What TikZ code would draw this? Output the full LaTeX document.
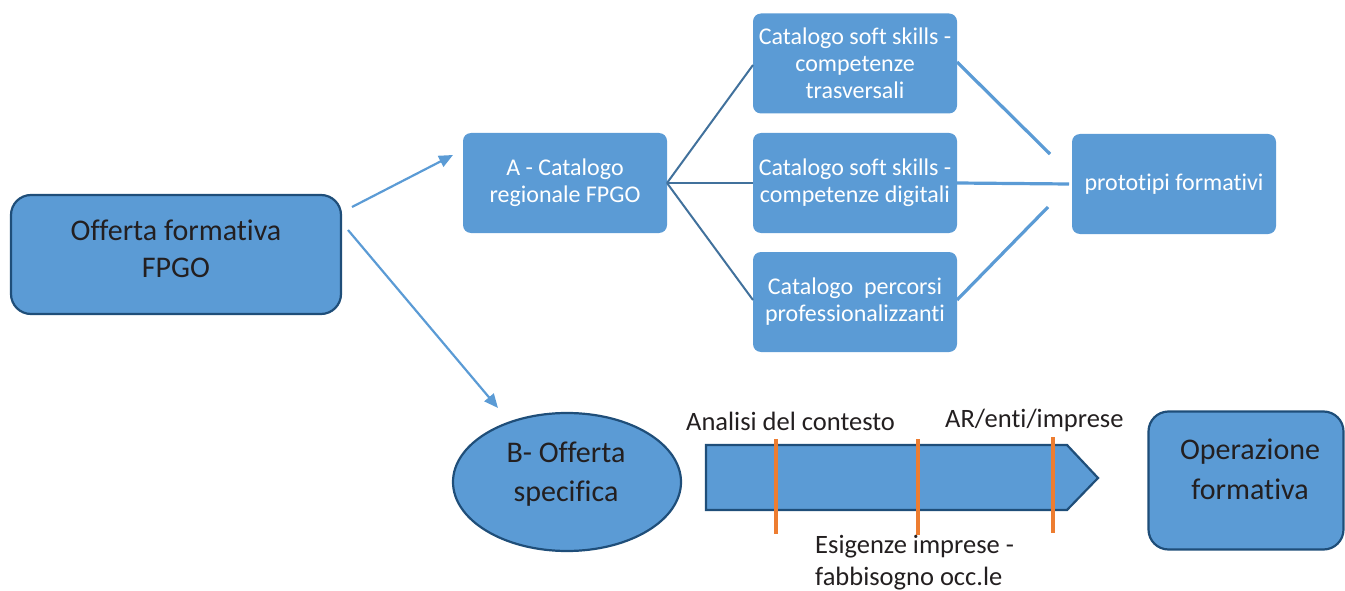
\documentclass[tikz,border=0pt]{standalone}
\usepackage{fontspec}
\setmainfont{Carlito}[Ligatures=NoCommon]
\usetikzlibrary{arrows.meta,shapes.geometric}
\definecolor{fillb}{HTML}{5B9BD5}
\definecolor{darkb}{HTML}{1F4E79}
\definecolor{midb}{HTML}{41719C}
\definecolor{orng}{HTML}{ED7D31}
\definecolor{txt}{HTML}{231F20}
\tikzset{
  bigbox/.style={draw=darkb, line width=2.2pt, fill=fillb, rounded corners=20pt},
  bigtext/.style={text=txt, align=center, inner sep=0pt},
  catbox/.style={fill=fillb, rounded corners=8pt, text=white, align=center,
    minimum width=204pt, minimum height=100pt, inner sep=0pt, font=\fontsize{24}{27}\selectfont},
  lnk/.style={draw=midb, line width=2pt},
  lnk2/.style={draw=fillb, line width=3.2pt},
  arr/.style={draw=fillb, line width=2.2pt, -{Triangle[length=14pt,width=12pt]}},
  orangemark/.style={draw=orng, line width=3.2pt},
  lbl/.style={text=txt, font=\fontsize{26.5}{32}\selectfont, inner sep=0pt}
}
\begin{document}
\begin{tikzpicture}[x=1pt,y=-1pt]
\useasboundingbox (0,0) rectangle (1345,591);
% main box
\node[bigbox, minimum width=330pt, minimum height=119pt] (off) at (176,254.5) {};
\node[bigtext, font=\fontsize{30}{37}\selectfont] (offt) at (176,249) {Offerta formativa\\FPGO};
% catalog boxes
\node[catbox] (A) at (565,183) {A - Catalogo\\regionale FPGO};
\node[catbox] (c1) at (855,63.5) {Catalogo soft skills -\\competenze\\trasversali};
\node[catbox] (c2) at (855,183) {Catalogo soft skills -\\competenze digitali};
\node[catbox] (c3) at (855,302) {Catalogo\ \ percorsi\\professionalizzanti};
\node[catbox] (p) at (1174,184) {prototipi formativi};
% links A -> catalogs
\coordinate (aR) at (667,183);
\draw[lnk] (aR) -- (753,65);
\draw[lnk] (aR) -- (c2.west);
\draw[lnk] (aR) -- (753,300);
% links catalogs -> prototipi
\coordinate (q1) at (1050,154);
\coordinate (q3) at (1048,207);
\draw[lnk2] (957,62) -- (q1);
\draw[lnk2] (c2.east) -- (1069,184);
\draw[lnk2] (957,300) -- (q3);
% B ellipse
\node[ellipse, draw=darkb, line width=2.2pt, fill=fillb, minimum width=228pt, minimum height=138pt] (B) at (567,482) {};
\node[bigtext, font=\fontsize{30}{39}\selectfont] (Bt) at (566,474) {B- Offerta\\specifica};
% arrows from main box
\coordinate (s1) at (352,207);
\coordinate (s2) at (348,230);
\coordinate (e1) at (453,155);
\coordinate (e2) at (498,408);
\draw[arr] (s1) -- (e1);
\draw[arr] (s2) -- (e2);
% chevron
\draw[draw=darkb, line width=2.2pt, fill=fillb] (706,445) -- (1067,445) -- (1098,478) -- (1067,510) -- (706,510) -- cycle;
\draw[orangemark] (776,439) -- (776,534);
\draw[orangemark] (918,439) -- (918,535);
\draw[orangemark] (1053,437) -- (1053,533);
% labels
\node[lbl, anchor=west] (l1) at (686,421) {Analisi del contesto};
\node[lbl, anchor=west] (l2) at (945,420) {AR/enti/imprese};
\node[lbl, anchor=north west, align=left] (l3) at (815,535) {Esigenze imprese -\\fabbisogno occ.le};
% operazione box
\node[bigbox, minimum width=195pt, minimum height=138pt] (op) at (1246,480.5) {};
\node[bigtext, font=\fontsize{30}{40}\selectfont] (opt) at (1250,469) {Operazione\\formativa};
\end{tikzpicture}
\end{document}
